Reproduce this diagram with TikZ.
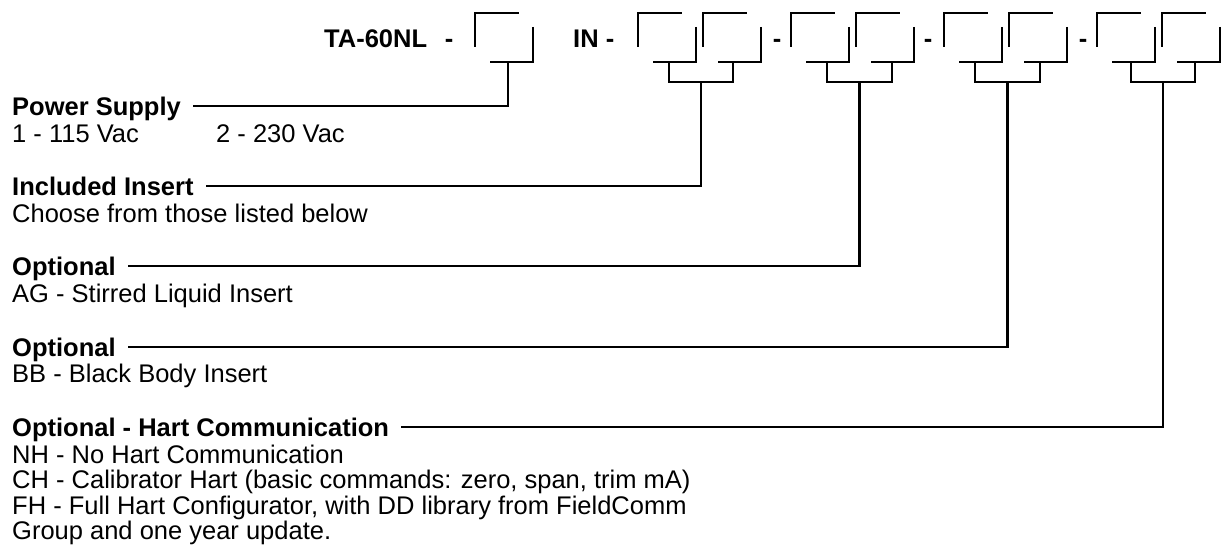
\documentclass[tikz,border=0pt]{standalone}
\usepackage{fontspec}
\setmainfont{Liberation Sans}
\newcommand\codebox[1]{%
  \draw[ln] (#1,47) -- (#1,13) -- (#1+44,13);
  \draw[ln] (#1+58,27) -- (#1+58,62) -- (#1+15,62);}
\begin{document}
\begin{tikzpicture}[x=1pt,y=-1pt,
  ln/.style={line width=2.8pt, black},
  hdr/.style={anchor=west, inner xsep=12pt, inner ysep=0pt, text height=18.3pt, text depth=0pt,
    font=\bfseries\fontsize{25.5}{25.5}\selectfont},
  det/.style={anchor=base west, inner sep=0pt, font=\fontsize{25.5}{25.5}\selectfont},
  cod/.style={inner sep=0pt, font=\bfseries\fontsize{25.5}{25.5}\selectfont}]
\fill[white] (0,0) rectangle (1224,545);
% code line
\node[cod, anchor=base west] (ta) at (324,48) {TA-60NL};
\node[cod, anchor=base] (d0) at (449,48) {-};
\node[cod, anchor=base west] (in) at (573,48) {IN -};
\node[cod, anchor=base] (d1) at (777,48) {-};
\node[cod, anchor=base] (d2) at (928,48) {-};
\node[cod, anchor=base] (d3) at (1083,48) {-};
\codebox{475}
\codebox{638}\codebox{703}
\codebox{791}\codebox{856}
\codebox{944}\codebox{1009}
\codebox{1097}\codebox{1162}
% stems
\coordinate (b0) at (508,62);
\coordinate (b1) at (669,62);  \coordinate (b2) at (733,62);  \coordinate (j1) at (701,82);
\coordinate (b3) at (827,62);  \coordinate (b4) at (892,62);  \coordinate (j2) at (859.5,82);
\coordinate (b5) at (975,62);  \coordinate (b6) at (1040,62); \coordinate (j3) at (1007.5,82);
\coordinate (b7) at (1131,62); \coordinate (b8) at (1195,62); \coordinate (j4) at (1163,82);
% headers
\node[hdr] (ps) at (0,106) {Power Supply};
\node[hdr] (ii) at (0,186) {Included Insert};
\node[hdr] (o1) at (0,266) {Optional};
\node[hdr] (o2) at (0,347) {Optional};
\node[hdr] (oh) at (0,427) {Optional - Hart Communication};
% details
\node[det] (v1) at (12,143) {1 - 115 Vac};
\node[det] (v2) at (216,143) {2 - 230 Vac};
\node[det] (cf) at (12,223) {Choose from those listed below};
\node[det] (ag) at (12,303) {AG - Stirred Liquid Insert};
\node[det] (bb) at (12,383) {BB - Black Body Insert};
\node[det] (nh) at (12,463) {NH - No Hart Communication};
\node[det] (ch) at (12,488.5) {CH - Calibrator Hart (basic commands: zero, span, trim mA)};
\node[det] (fh) at (12,514) {FH - Full Hart Configurator, with DD library from FieldComm};
\node[det] (gr) at (12,539.5) {Group and one year update.};
% connectors
\draw[ln] (b0) |- (ps.east);
\draw[ln] (b1) |- (j1) -| (b2);
\draw[ln] (j1) |- (ii.east);
\draw[ln] (b3) |- (j2) -| (b4);
\draw[ln] (j2) |- (o1.east);
\draw[ln] (b5) |- (j3) -| (b6);
\draw[ln] (j3) |- (o2.east);
\draw[ln] (b7) |- (j4) -| (b8);
\draw[ln] (j4) |- (oh.east);
\end{tikzpicture}
\end{document}
